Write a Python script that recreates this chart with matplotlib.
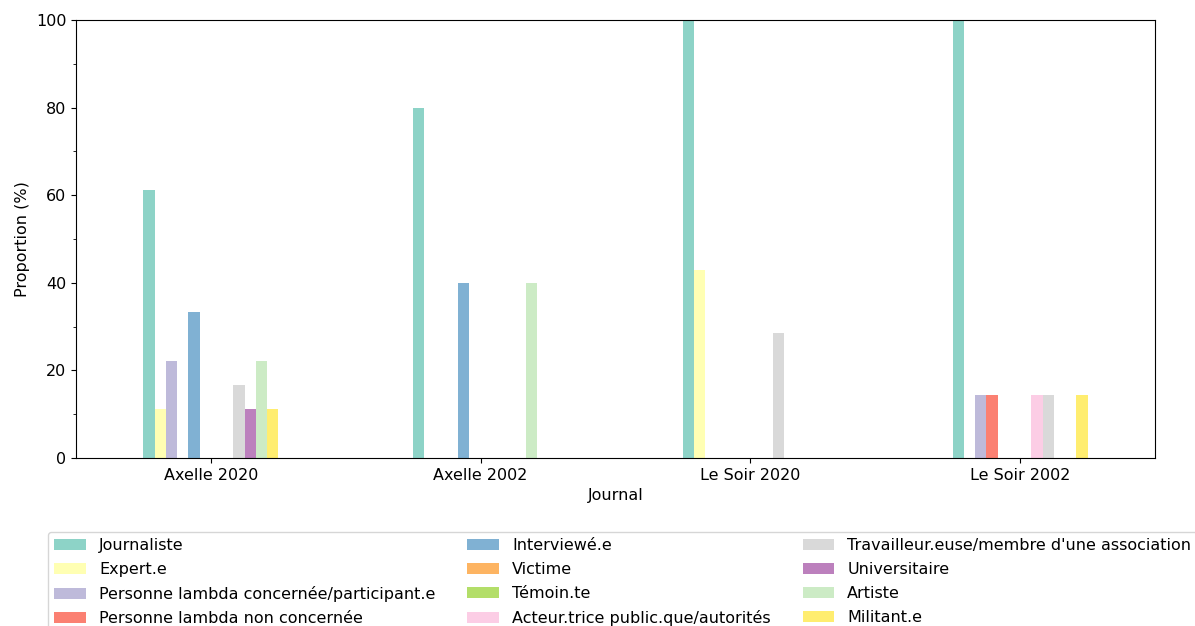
import pandas as pd
import matplotlib
matplotlib.use('Agg')
import matplotlib.pyplot as plt
from matplotlib.ticker import MultipleLocator

plt.rcParams['font.size'] = 11.5

# journaux
journals = ["Axelle 2020", "Axelle 2002", "Le Soir 2020", "Le Soir 2002"]

# catégories d'intervenant.e.s
roles = [
    "Journaliste",
    "Expert.e",
    "Personne lambda concernée/participant.e",
    "Personne lambda non concernée",
    "Interviewé.e",
    "Victime",
    "Témoin.te",
    "Acteur.trice public.que/autorités",
    "Travailleur.euse/membre d'une association",
    "Universitaire",
    "Artiste",
    "Militant.e",
]

# proportions (%) par journal, dans l'ordre de roles
axelle_2020 = [61.1, 11.1, 22.2, 0, 33.3, 0, 0, 0, 16.7, 11.1, 22.2, 11.1]
axelle_2002 = [80.0, 0, 0, 0, 40.0, 0, 0, 0, 0, 0, 40.0, 0]
soir_2020 = [100.0, 42.9, 0, 0, 0, 0, 0, 0, 28.6, 0, 0, 0]
soir_2002 = [100.0, 0, 14.3, 14.3, 0, 0, 0, 14.3, 14.3, 0, 0, 14.3]

df = pd.DataFrame([axelle_2020, axelle_2002, soir_2020, soir_2002],
                  index=journals, columns=roles)

fig = plt.figure(figsize=(11.95, 6.26), dpi=100)
ax = fig.add_axes([0.0636, 0.2684, 0.9029, 0.6996])

df.plot(kind='bar', ax=ax, colormap='Set3', rot=0, legend=False)

ax.set_ylim(0, 100)
ax.yaxis.set_major_locator(MultipleLocator(20))
ax.yaxis.set_minor_locator(MultipleLocator(10))
ax.set_xlabel("Journal")
ax.set_ylabel("Proportion (%)")

# légende sous le graphique (coupée en bas comme l'original)
handles, labels = ax.get_legend_handles_labels()
fig.legend(handles, labels, loc='upper left', bbox_to_anchor=(0.040, 0.150),
           borderaxespad=0, ncol=3, labelspacing=0.56, handlelength=2.0)

fig.savefig('out.png', dpi=100)
